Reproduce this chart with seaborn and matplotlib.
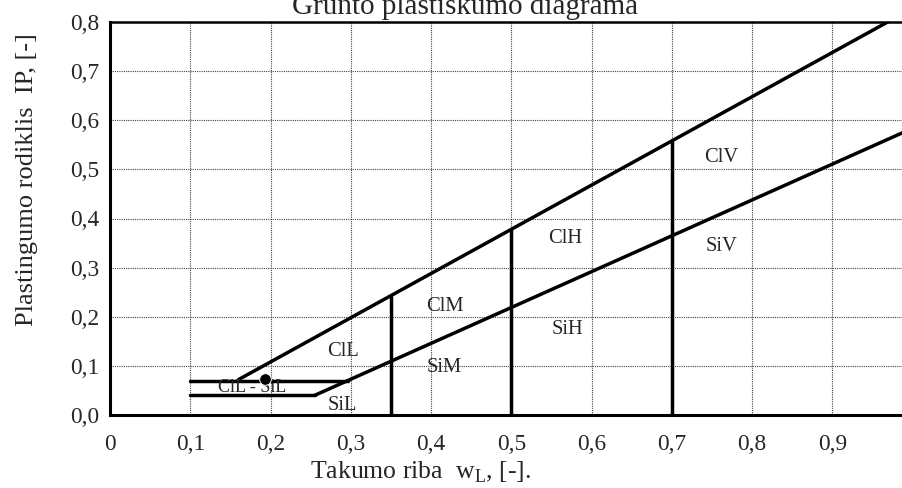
import matplotlib
matplotlib.use("Agg")
import matplotlib.pyplot as plt
import seaborn as sns
import pandas as pd

# chart data
u_x = [0.16, 0.98]          # upper boundary line
u_y = [0.072, 0.81]
a_x = [0.255, 0.988]        # lower boundary line
a_y = [0.04, 0.575]
h_y = [0.07, 0.04]          # horizontal limit lines, from wL = 0.1
h_end = [0.296, 0.255]
v_x = [0.35, 0.50, 0.70]    # vertical separators
v_top = [0.243, 0.378, 0.558]

zone_names = ["ClL", "SiL", "ClM", "SiM", "ClH", "SiH", "ClV", "SiV"]
zone_x = [0.29, 0.29, 0.417, 0.417, 0.567, 0.57, 0.762, 0.762]
zone_y = [0.13, 0.02, 0.22, 0.096, 0.36, 0.175, 0.525, 0.342]
mix_name = "ClL - SiL"
mix_x, mix_y = 0.177, 0.055
dot_x = [0.193]
dot_y = [0.073]

x_ticks = [0, 0.1, 0.2, 0.3, 0.4, 0.5, 0.6, 0.7, 0.8, 0.9]
x_labels = ["0", "0,1", "0,2", "0,3", "0,4", "0,5", "0,6", "0,7", "0,8", "0,9"]
y_ticks = [0, 0.1, 0.2, 0.3, 0.4, 0.5, 0.6, 0.7, 0.8]
y_labels = ["0,0", "0,1", "0,2", "0,3", "0,4", "0,5", "0,6", "0,7", "0,8"]

sns.set_style("white")
plt.rcParams["font.family"] = ["Liberation Serif", "DejaVu Serif"]
plt.rcParams["mathtext.fontset"] = "custom"
plt.rcParams["mathtext.rm"] = "Liberation Serif"

fig = plt.figure(figsize=(9.03, 4.88), dpi=100)
ax = fig.add_axes([110 / 903, 1 - 415 / 488, 1 - 110 / 903, (415 - 22) / 488])

lw = 2.5
sns.lineplot(x=u_x, y=u_y, ax=ax, color="black", lw=lw)
sns.lineplot(x=a_x, y=a_y, ax=ax, color="black", lw=lw)
for y, x1 in zip(h_y, h_end):
    seg = pd.DataFrame({"x": [0.10, x1], "y": [y, y]})
    sns.lineplot(data=seg, x="x", y="y", ax=ax, color="black", lw=lw)
for x, top in zip(v_x, v_top):
    ax.vlines(x, 0, top, color="black", lw=lw)

sns.scatterplot(x=dot_x, y=dot_y, ax=ax, color="black", s=70, zorder=5)

for name, x, y in zip(zone_names, zone_x, zone_y):
    ax.text(x, y, name, ha="center", va="center", fontsize=14.8)
ax.text(mix_x, mix_y, mix_name, ha="center", va="center", fontsize=13)

ax.set_xlim(0, 0.988)
ax.set_ylim(0, 0.8)
ax.set_xticks(x_ticks)
ax.set_xticklabels(x_labels, fontsize=16.8)
ax.set_yticks(y_ticks)
ax.set_yticklabels(y_labels, fontsize=16.8)
ax.tick_params(axis="x", pad=14, length=0)
ax.tick_params(axis="y", pad=8, length=0)
ax.grid(True, color="#444444", lw=0.8, ls=(0, (1, 1)))
for side in ["left", "bottom"]:
    ax.spines[side].set_linewidth(2.2)
    ax.spines[side].set_color("black")
ax.spines["top"].set_linewidth(1.8)
ax.spines["top"].set_color("black")
ax.spines["right"].set_visible(False)

ax.set_xlabel("Takumo riba  w$_{\\rm L}$, [-].", fontsize=18.5)
ax.xaxis.set_label_coords(0.392, -0.145)
ax.xaxis.label.set_va("center")
ax.set_ylabel("Plastingumo rodiklis  IP, [-]", fontsize=19)
ax.yaxis.set_label_coords(-0.105, 0.598)
ax.yaxis.label.set_va("center")
fig.text(0.515, 1 - 14 / 488, "Grunto plastiškumo diagrama", ha="center",
         va="baseline", fontsize=21)

fig.savefig("out.png", dpi=100)
